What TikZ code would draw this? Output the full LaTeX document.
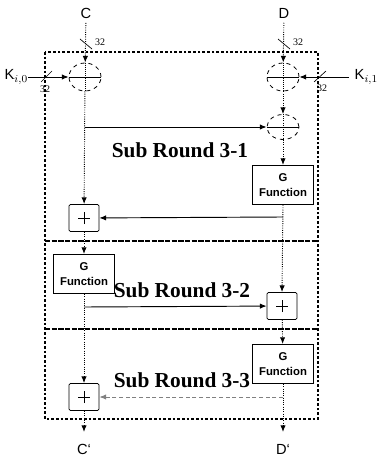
\documentclass[tikz,border=0pt]{standalone}
\usepackage{fontspec}
\setmainfont{Liberation Serif}
\setsansfont{Liberation Sans}
\usetikzlibrary{arrows.meta,shapes.geometric}
\begin{document}
\begin{tikzpicture}[x=0.75pt,y=-0.75pt,
  tip/.style={-{Latex[length=5pt,width=4pt]}},
  col/.style={densely dotted,line width=0.7pt,tip},
  hline/.style={line width=0.7pt,tip},
  xorc/.style={ellipse,draw,dashed,line width=0.6pt,minimum width=32*0.75pt,minimum height=28*0.75pt,inner sep=0pt},
  gbox/.style={draw,line width=0.8pt,minimum width=61*0.75pt,minimum height=39*0.75pt,align=center,font=\sffamily\bfseries\fontsize{8.5}{11}\selectfont,inner sep=1pt},
  pbox/.style={draw,line width=0.6pt,rounded corners=1pt,minimum width=30*0.75pt,minimum height=27*0.75pt,inner sep=0pt},
  lab/.style={font=\sffamily\fontsize{11}{12}\selectfont},
  sub/.style={font=\bfseries\fontsize{16}{18}\selectfont},
  small/.style={font=\fontsize{7.5}{8}\selectfont,inner sep=0pt}]
\useasboundingbox (0,0) rectangle (384,456);
% outer box and separators
\draw[dash pattern=on 2pt off 1.5pt,line width=0.8pt] (45,52) rectangle (318,419);
\draw[dash pattern=on 4pt off 1pt,line width=0.9pt] (45,241) -- (318,241);
\draw[dash pattern=on 4pt off 1pt,line width=0.9pt] (45,329) -- (318,329);
% labels
\node[lab] (C) at (86,13) {C};
\node[lab] (D) at (284,13) {D};
\node[lab,anchor=west] (K0) at (0,77) {K$_{i,0}$};
\node[lab,anchor=west] (K1) at (350,77) {K$_{i,1}$};
% xor nodes
\node[xorc] (X1) at (85,77) {};
\node[xorc] (X2) at (283,77) {};
\node[xorc,minimum height=25*0.75pt] (X3) at (283,127) {};
\foreach \n in {X1,X2,X3}{
  \draw[line width=0.7pt] (\n.west) -- (\n.east);
  \draw[densely dotted,line width=0.6pt] (\n.north) -- (\n.south);}
% G boxes and plus boxes
\node[gbox] (G1) at (283,185) {G\\Function};
\node[gbox] (G2) at (84,274) {G\\Function};
\node[gbox] (G3) at (283,364) {G\\Function};
\node[pbox] (P1) at (84,218) {};
\node[pbox] (P2) at (282,306) {};
\node[pbox] (P3) at (84,397) {};
\foreach \n in {P1,P2,P3}{
  \draw[line width=0.5pt] ([xshift=-4.5pt]\n.center) -- ([xshift=4.5pt]\n.center);
  \draw[line width=0.5pt] ([yshift=-4.5pt]\n.center) -- ([yshift=4.5pt]\n.center);}
% sub round labels
\node[sub] (S1) at (180,150) {Sub Round 3-1};
\node[sub] (S2) at (182,290) {Sub Round 3-2};
\node[sub] (S3) at (182,380) {Sub Round 3-3};
% outputs
\coordinate (Co) at (84,432);
\coordinate (Do) at (283,432);
\node[lab] (Cp) at (84,449) {C`};
\node[lab] (Dp) at (283,449) {D`};
% vertical connections
\draw[col] (C) -- (X1);
\draw[col] (D) -- (X2);
\draw[col] (X1) -- (P1);
\draw[col] (X2) -- (X3);
\draw[col] (X3) -- (G1);
\draw[col] (G1.south) -- (P2.north);
\draw[col] (P1) -- (G2);
\draw[col] (G2) -- (P3);
\draw[col] (P2) -- (G3);
\draw[col] (G3) -- (Do);
\draw[col] (P3) -- (Co);
% key inputs
\coordinate (k0s) at (28,77);
\coordinate (k1s) at (349,77);
\draw[hline] (k0s) -- (X1);
\draw[hline] (k1s) -- (X2);
% slash marks
\coordinate (s1a) at (80,39); \coordinate (s1b) at (92,49);
\draw[line width=0.5pt] (s1a) -- (s1b);
\node[small] (n1) at (100,42) {32};
\coordinate (s2a) at (278,39); \coordinate (s2b) at (290,49);
\draw[line width=0.5pt] (s2a) -- (s2b);
\node[small] (n2) at (298,42) {32};
\coordinate (s3a) at (41,82); \coordinate (s3b) at (52,71);
\draw[line width=0.5pt] (s3a) -- (s3b);
\node[small] (n3) at (45,89) {32};
\coordinate (s4a) at (314,82); \coordinate (s4b) at (326,71);
\draw[line width=0.5pt] (s4a) -- (s4b);
\node[small] (n4) at (322,88) {32};
% horizontal connections
\coordinate (a1) at (85,127);
\draw[hline] (a1) -- (X3);
\coordinate (a2) at (283,217);
\draw[hline] (a2) -- (P1);
\coordinate (a3) at (84,307);
\draw[hline] (a3) -- (P2);
\coordinate (a4) at (283,397);
\draw[hline,densely dashed,gray] (a4) -- (P3);
\end{tikzpicture}
\end{document}
